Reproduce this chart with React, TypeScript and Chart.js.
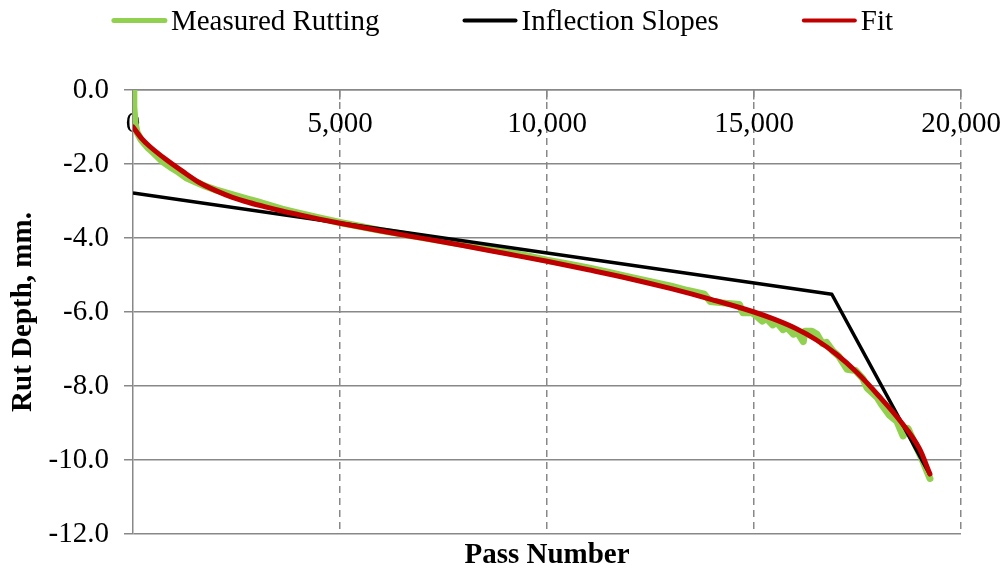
import React, { useEffect, useRef } from 'react';
import { Chart, registerables } from 'chart.js';

Chart.register(...registerables);

// ---- Data ----
const measuredPasses = [
  0, 20, 50, 100, 200, 350, 500, 700, 900, 1100, 1300, 1500, 1750, 2000, 2250, 2500, 2750, 3000,
  3300, 3600, 4000, 4500, 5000, 5500, 6000, 6500, 7000, 7500, 8000, 8500, 9000, 9500, 10000,
  10500, 11000, 11500, 12000, 12500, 13000, 13400, 13800, 13950, 14300, 14650, 14730, 14950,
  15050, 15200, 15300, 15450, 15550, 15700, 15800, 15950, 16050, 16190, 16230, 16400, 16520,
  16650, 16750, 16900, 17050, 17250, 17450, 17630, 17730, 17970, 18080, 18280, 18450, 18600,
  18720, 18900, 19050, 19250,
];
const measuredDepth = [
  0, -0.45, -0.9, -1.15, -1.35, -1.55, -1.7, -1.92, -2.08, -2.22, -2.38, -2.48, -2.6, -2.7, -2.78,
  -2.86, -2.94, -3.02, -3.12, -3.22, -3.33, -3.46, -3.58, -3.69, -3.8, -3.89, -3.99, -4.08, -4.18,
  -4.28, -4.38, -4.48, -4.6, -4.7, -4.81, -4.93, -5.06, -5.18, -5.3, -5.42, -5.52, -5.72, -5.76,
  -5.8, -6.02, -6.02, -6.1, -6.25, -6.17, -6.35, -6.28, -6.48, -6.42, -6.6, -6.55, -6.8, -6.52,
  -6.52, -6.6, -6.85, -6.82, -7.05, -7.2, -7.55, -7.58, -7.8, -8.05, -8.3, -8.5, -8.8, -8.95,
  -9.35, -9.15, -9.6, -9.95, -10.5,
];

const slopePasses = [0, 16880, 19250];
const slopeDepth = [-2.78, -5.52, -10.4];

const fitPasses = [
  0, 200, 400, 800, 1200, 1600, 2000, 2400, 2800, 3200, 3600, 4000, 4500, 5000, 6000, 7000, 8000,
  9000, 10000, 11000, 12000, 13000, 14000, 15000, 15500, 16000, 16500, 17000, 17500, 18000, 18500,
  19000, 19250,
];
const fitDepth = [
  -1.0, -1.3, -1.52, -1.88, -2.2, -2.5, -2.72, -2.9, -3.04, -3.16, -3.27, -3.37, -3.49, -3.6,
  -3.81, -4.01, -4.21, -4.42, -4.63, -4.86, -5.1, -5.37, -5.67, -6.0, -6.2, -6.44, -6.75, -7.15,
  -7.65, -8.25, -8.9, -9.7, -10.38,
];

const xTicks = [0, 5000, 10000, 15000, 20000];
const yTicks = [0, -2, -4, -6, -8, -10, -12];

const seriesNames = ['Measured Rutting', 'Inflection Slopes', 'Fit'];
const seriesColors = ['#92D050', '#000000', '#C00000'];
const seriesWidths = [7, 3.5, 5];

const GRID = '#888888';
const FONT = '"Liberation Serif", "Times New Roman", serif';
const CLEAR = 'rgba(0,0,0,0)';

const toPoints = (xs: number[], ys: number[]) => xs.map((x, i) => ({ x, y: ys[i] }));

const legendPlugin = {
  id: 'customLegend',
  afterDraw(chart: any) {
    const ctx = chart.ctx;
    ctx.save();
    ctx.font = `29px ${FONT}`;
    const lineLen = 55;
    const textGap = 4;
    const itemGap = 83;
    const widths = seriesNames.map((n) => lineLen + textGap + ctx.measureText(n).width);
    const total = widths.reduce((a, b) => a + b, 0) + itemGap * (seriesNames.length - 1);
    let x = (chart.width - total) / 2;
    const yLine = 20.5;
    const yText = 30;
    seriesNames.forEach((name, i) => {
      ctx.strokeStyle = seriesColors[i];
      ctx.lineWidth = i === 0 ? 5 : 4;
      ctx.lineCap = 'round';
      ctx.beginPath();
      ctx.moveTo(x + 2, yLine);
      ctx.lineTo(x + lineLen - 2, yLine);
      ctx.stroke();
      ctx.fillStyle = '#000';
      ctx.textAlign = 'left';
      ctx.textBaseline = 'alphabetic';
      ctx.fillText(name, x + lineLen + textGap, yText);
      x += widths[i] + itemGap;
    });
    ctx.restore();
  },
};

const noSidePadding = (scale: any) => {
  scale.paddingLeft = 0;
  scale.paddingRight = 0;
};

export default function App() {
  const canvasRef = useRef<HTMLCanvasElement | null>(null);

  useEffect(() => {
    if (!canvasRef.current) return;
    Chart.defaults.font.family = FONT;
    Chart.defaults.color = '#000';
    const xTickFormat = (v: any) => Number(v).toLocaleString('en-US');
    const chart = new Chart(canvasRef.current, {
      type: 'scatter',
      data: {
        datasets: [
          {
            label: seriesNames[0],
            data: toPoints(measuredPasses, measuredDepth),
            showLine: true,
            borderColor: seriesColors[0],
            backgroundColor: seriesColors[0],
            borderWidth: seriesWidths[0],
            borderCapStyle: 'round',
            borderJoinStyle: 'round',
            pointRadius: 0,
            tension: 0,
            order: 3,
          },
          {
            label: seriesNames[1],
            data: toPoints(slopePasses, slopeDepth),
            showLine: true,
            borderColor: seriesColors[1],
            backgroundColor: seriesColors[1],
            borderWidth: seriesWidths[1],
            borderJoinStyle: 'round',
            pointRadius: 0,
            tension: 0,
            order: 2,
          },
          {
            label: seriesNames[2],
            data: toPoints(fitPasses, fitDepth),
            showLine: true,
            borderColor: seriesColors[2],
            backgroundColor: seriesColors[2],
            borderWidth: seriesWidths[2],
            borderCapStyle: 'round',
            borderJoinStyle: 'round',
            cubicInterpolationMode: 'monotone',
            pointRadius: 0,
            order: 1,
          },
        ],
      },
      options: {
        animation: false,
        responsive: true,
        maintainAspectRatio: false,
        layout: { padding: { top: 90, right: 44, bottom: 0, left: 0 } },
        plugins: { legend: { display: false }, tooltip: { enabled: false } },
        scales: {
          x: {
            type: 'linear',
            position: { y: 0 } as any,
            min: 0,
            max: 20000,
            afterBuildTicks: (scale: any) => {
              scale.ticks = xTicks.map((v) => ({ value: v }));
            },
            afterFit: noSidePadding,
            ticks: { display: false },
            grid: {
              color: (c: any) => (c.tick && c.tick.value === 0 ? CLEAR : GRID),
              lineWidth: 1.5,
              tickLength: 9,
              tickColor: GRID,
              tickWidth: 1.5,
            },
            border: { display: true, color: GRID, width: 1.5, dash: [7, 5] },
          },
          xLabels: {
            type: 'linear',
            position: { y: 0 } as any,
            min: 0,
            max: 20000,
            z: 1,
            afterBuildTicks: (scale: any) => {
              scale.ticks = xTicks.map((v) => ({ value: v }));
            },
            afterFit: noSidePadding,
            ticks: {
              autoSkip: false,
              maxRotation: 0,
              padding: 8,
              font: { size: 29 },
              color: '#000',
              callback: xTickFormat,
            },
            grid: {
              display: true,
              drawOnChartArea: false,
              drawTicks: true,
              tickLength: 9,
              color: CLEAR,
              tickColor: CLEAR,
            },
            border: { display: false },
          },
          xt: {
            type: 'linear',
            position: 'bottom',
            min: 0,
            max: 20000,
            ticks: { display: false },
            grid: { display: false, drawTicks: false },
            border: { display: false },
            title: {
              display: true,
              text: 'Pass Number',
              font: { size: 29, weight: 'bold' },
              color: '#000',
              padding: 0,
            },
            afterFit: (scale: any) => {
              scale.height = 39;
              scale.paddingLeft = 0;
              scale.paddingRight = 0;
            },
          },
          y: {
            type: 'linear',
            position: 'left',
            min: -12,
            max: 0,
            afterBuildTicks: (scale: any) => {
              scale.ticks = yTicks.map((v) => ({ value: v }));
            },
            ticks: {
              padding: 15,
              font: { size: 29 },
              color: '#000',
              callback: (v: any) => Number(v).toFixed(1),
            },
            grid: {
              color: GRID,
              lineWidth: 1.5,
              tickLength: 9,
              tickColor: GRID,
              tickWidth: 1.5,
            },
            border: { display: true, color: GRID, width: 1.5 },
            title: {
              display: true,
              text: 'Rut Depth, mm.',
              font: { size: 29, weight: 'bold' },
              color: '#000',
              padding: { top: 6, bottom: 0 },
            },
            afterFit: (scale: any) => {
              scale.width = 133;
            },
          },
        },
      } as any,
      plugins: [legendPlugin],
    });
    return () => chart.destroy();
  }, []);

  return (
    <div style={{ position: 'absolute', left: 0, top: 0, width: 1005, height: 573, background: '#fff' }}>
      <canvas ref={canvasRef} />
    </div>
  );
}
